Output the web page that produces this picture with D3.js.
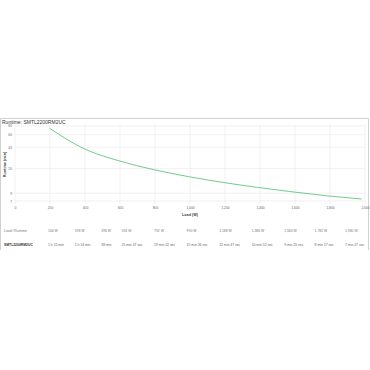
<!DOCTYPE html>
<html><head><meta charset="utf-8">
<script src="https://cdn.jsdelivr.net/npm/d3@7"></script>
<style>html,body{margin:0;padding:0;background:#fff;}svg{display:block;}</style>
</head><body>
<svg id="c" width="370" height="370"></svg>
<script>
const title = "Runtime: SMTL2200RM2UC";
const model = "SMTL2200RM2UC";
const xTicks = [0, 200, 400, 600, 800, 1000, 1200, 1400, 1600, 1800, 2000];
const yTicks = [7, 9, 20, 40, 60, 80];
const curveLoads = [198, 396, 594, 792, 990, 1188, 1386, 1584, 1782, 1980];
const curveMinutes = [74, 38, 25.78, 19.37, 15.43, 12.78, 10.87, 9.42, 8.28, 7.45];
const tableLoads = ["160 W", "198 W", "396 W", "594 W", "792 W", "990 W", "1,188 W", "1,386 W", "1,584 W", "1,782 W", "1,980 W"];
const tableRuntimes = ["1 h 15 min", "1 h 14 min", "38 min", "25 min 47 sec", "19 min 22 sec", "15 min 26 sec", "12 min 47 sec", "10 min 52 sec", "9 min 25 sec", "8 min 17 sec", "7 min 27 sec"];

(function () {
const svg = d3.select("#c");
const font = "Liberation Sans, Arial, sans-serif";
const pl = 15, pr = 365, pt = 125, pb = 204;

const x = d3.scaleLinear().domain([0, 2000]).range([pl, pr]);
const y = d3.scaleLog().domain([6.34, 82.4]).range([pb, pt]);

// frame
svg.append("path").attr("d", "M0.5,250 V118.5 H368.5 V250")
  .attr("fill", "none").attr("stroke", "#d0d0d0").attr("stroke-width", 1);

svg.append("text").attr("x", 2).attr("y", 124).attr("font-family", font)
  .attr("font-size", 5).attr("fill", "#333").text(title);

// grid
svg.append("g").selectAll("line").data(xTicks).join("line")
  .attr("x1", d => x(d)).attr("x2", d => x(d)).attr("y1", pt).attr("y2", pb)
  .attr("stroke", "#e8e8e8").attr("stroke-width", 0.6);
svg.append("g").selectAll("line").data(yTicks).join("line")
  .attr("x1", pl).attr("x2", pr).attr("y1", d => y(d)).attr("y2", d => y(d))
  .attr("stroke", "#e8e8e8").attr("stroke-width", 0.6);

// axes
const xAxis = d3.axisBottom(x).tickValues(xTicks).tickSize(0).tickPadding(3)
  .tickFormat(d3.format(","));
const gx = svg.append("g").attr("transform", `translate(0,${pb})`).call(xAxis);
gx.select(".domain").remove();
gx.selectAll("text").attr("font-family", font).attr("font-size", 3.3).attr("fill", "#666");

const yAxis = d3.axisLeft(y).tickValues(yTicks).tickSize(0).tickPadding(3)
  .tickFormat(d3.format("d"));
const gy = svg.append("g").attr("transform", `translate(${pl},0)`).call(yAxis);
gy.select(".domain").remove();
gy.selectAll("text").attr("font-family", font).attr("font-size", 3.3).attr("fill", "#666");

svg.append("text").attr("x", (pl + pr) / 2).attr("y", 215.5).attr("text-anchor", "middle")
  .attr("font-family", font).attr("font-size", 3.8).attr("font-weight", "bold").attr("fill", "#444")
  .text("Load (W)");
svg.append("text").attr("transform", `translate(5.5,${(pt + pb) / 2}) rotate(-90)`)
  .attr("text-anchor", "middle").attr("font-family", font).attr("font-size", 3.8)
  .attr("font-weight", "bold").attr("fill", "#444").text("Runtime (min)");

// curve
const pts = curveLoads.map((l, i) => [l, curveMinutes[i]]);
svg.append("path").datum(pts)
  .attr("d", d3.line().x(d => x(d[0])).y(d => y(d[1])).curve(d3.curveMonotoneX))
  .attr("fill", "none").attr("stroke", "#5fc67f").attr("stroke-width", 0.9);

// table (auto-like column layout)
const tg = svg.append("g");
const fs = 3.4;
const cols = [["Load / Runtime", model]].concat(tableLoads.map((l, i) => [l, tableRuntimes[i]]));
const meas = svg.append("text").attr("font-family", font).attr("font-size", fs);
const widths = cols.map((c, ci) => d3.max(c, (t, ri) => {
  meas.attr("font-weight", (ci === 0 && ri === 1) ? "bold" : "normal").text(t);
  return meas.node().getComputedTextLength();
}));
meas.remove();
const firstX = 4, dataStart = 48, lastStart = 345, k = 8;
const mid = widths.slice(1, widths.length - 1);
const s = (lastStart - dataStart) / d3.sum(mid, w => w + k);
const colX = [firstX, dataStart];
mid.forEach(w => colX.push(colX[colX.length - 1] + (w + k) * s));
cols.forEach((c, ci) => {
  tg.append("text").attr("x", colX[ci]).attr("y", 232).attr("font-family", font)
    .attr("font-size", fs).attr("fill", "#777").text(c[0]);
  tg.append("text").attr("x", colX[ci]).attr("y", 245.5).attr("font-family", font)
    .attr("font-size", fs).attr("font-weight", ci === 0 ? "bold" : "normal")
    .attr("fill", ci === 0 ? "#333" : "#666").text(c[1]);
});
})();
</script>
</body></html>
